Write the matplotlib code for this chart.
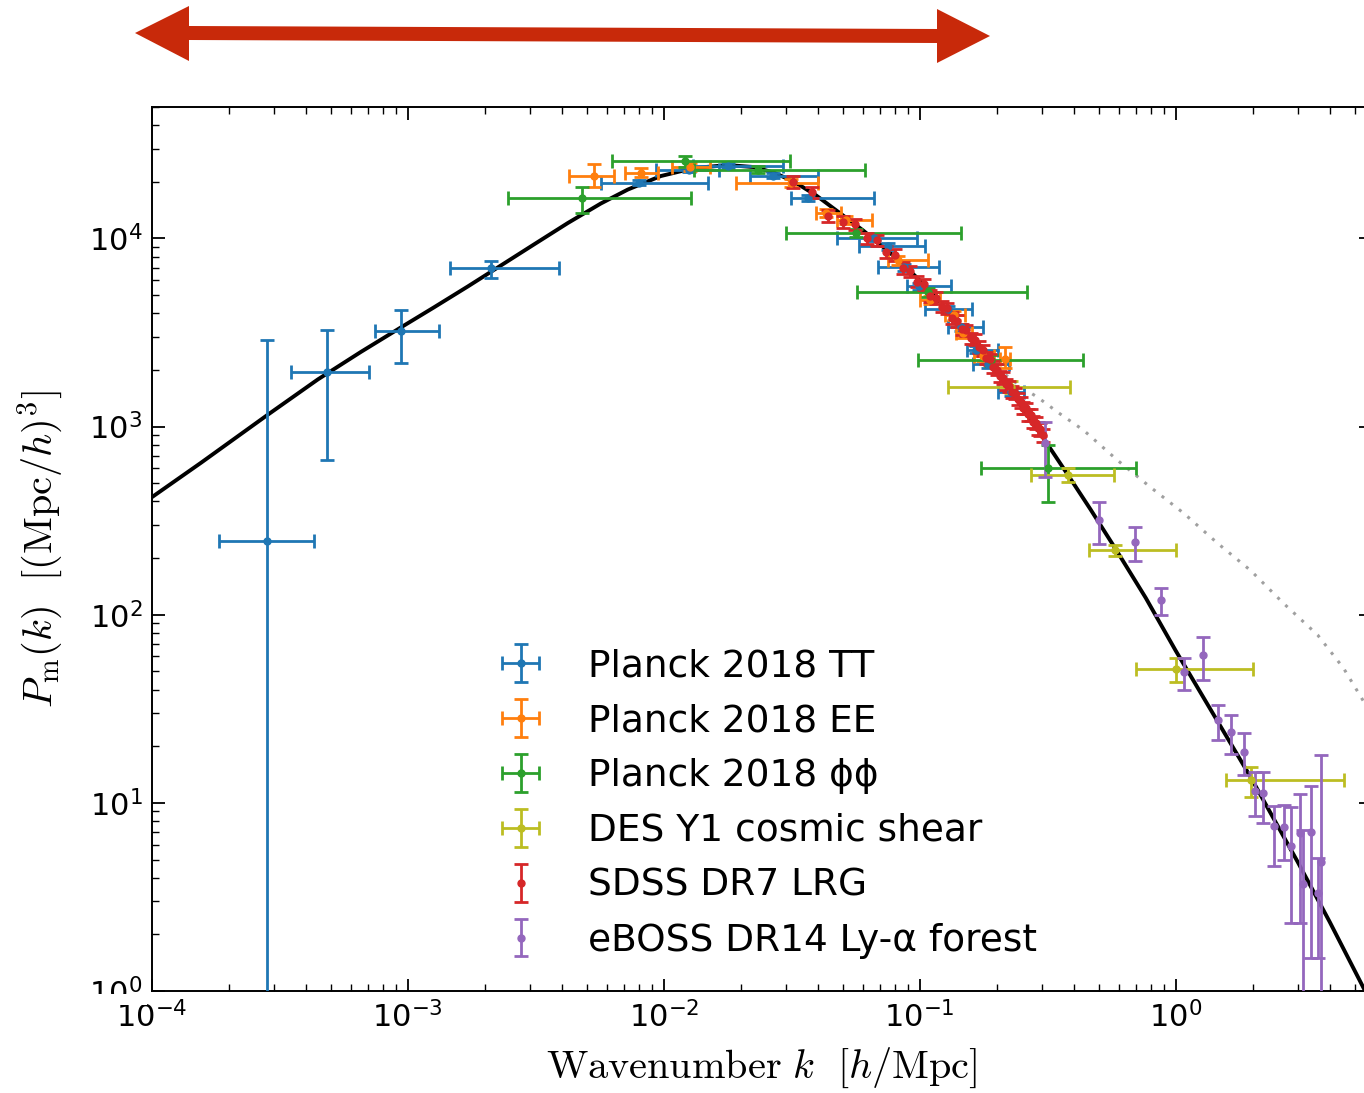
import numpy as np
import matplotlib
matplotlib.use("Agg")
import matplotlib.pyplot as plt
from matplotlib.patches import Polygon, Rectangle
from matplotlib.ticker import LogLocator, NullFormatter

plt.rcParams['font.family'] = ['DejaVu Sans']
plt.rcParams['mathtext.fontset'] = 'dejavusans'

# ---------------- data ----------------
# linear theory P(k)
line_k = [1.0e-4, 1.553e-4, 2.812e-4, 4.45e-4, 6.553e-4, 9.39e-4, 1.263e-3, 1.715e-3, 2.309e-3, 3.107e-3,
          4.217e-3, 5.674e-3, 7.233e-3, 9.733e-3, 1.31e-2, 1.778e-2, 2.247e-2, 2.69e-2, 3.22e-2, 3.925e-2,
          0.05, 0.06, 0.07, 0.08, 0.09, 0.1, 0.12, 0.14, 0.16, 0.18,
          0.2, 0.226, 0.25, 0.28, 0.31, 0.38, 0.465, 0.58, 0.764, 1.0,
          1.4, 1.97, 3.0, 4.0, 5.42, 6.0]
line_P = [422, 642, 1148, 1783, 2496, 3368, 4301, 5561, 7188, 9293,
          12087, 15346, 18203, 21475, 23680, 24565, 23974, 22410, 20075, 17000,
          13300, 11050, 9305, 7970, 6879, 5985, 4593, 3611, 2897, 2363,
          1955, 1556, 1282, 1025, 836, 552, 363, 226, 123, 64.5,
          29.8, 13.6, 4.85, 2.33, 1.04, 0.79]

# non-linear P(k)
nl_k = [0.2, 0.2265, 0.25, 0.289, 0.35, 0.4375, 0.593, 0.798, 1.074, 1.458,
        1.963, 2.64, 3.59, 4.53, 5.47, 6.0]
nl_P = [2050, 1800, 1620, 1432, 1180, 955, 662, 476, 347, 240,
        172, 115, 78, 52, 34, 29]

# Planck 2018 TT
tt_k = [2.81e-4, 4.83e-4, 9.4e-4, 2.11e-3, 7.98e-3, 1.25e-2, 1.78e-2, 2.67e-2, 3.65e-2, 6.6e-2,
        7.5e-2, 8.66e-2, 9.9e-2, 0.1285, 0.1445, 0.1655, 0.1845, 0.2265]
tt_k_lo = [1.83e-4, 3.49e-4, 7.43e-4, 1.46e-3, 5.67e-3, 9.3e-3, 1.30e-2, 2.18e-2, 3.13e-2, 4.73e-2,
           5.8e-2, 6.88e-2, 8.88e-2, 0.105, 0.1285, 0.1525, 0.161, 0.2015]
tt_k_hi = [4.3e-4, 7.05e-4, 1.32e-3, 3.89e-3, 1.49e-2, 1.65e-2, 2.92e-2, 4.02e-2, 6.64e-2, 9.76e-2,
           0.105, 0.1187, 0.1323, 0.1595, 0.1775, 0.2015, 0.2225, 0.2555]
tt_P = [246, 1940, 3205, 6930, 19800, 23200, 24400, 21600, 16500, 10100,
        9070, 7020, 5560, 4200, 3370, 2570, 2140, 1520]
tt_P_lo = [1e-3, 662, 2190, 6140, 19200, 22500, 23700, 20900, 15900, 9700,
           8700, 6700, 5300, 4000, 3220, 2450, 2040, 1450]
tt_P_hi = [2870, 3245, 4150, 7550, 20400, 23900, 25100, 22300, 17100, 10500,
           9450, 7350, 5820, 4400, 3520, 2690, 2240, 1590]

# Planck 2018 EE
ee_k = [5.33e-3, 8.13e-3, 1.27e-2, 3.13e-2, 4.3e-2, 5.14e-2, 8.2e-2, 0.110, 0.136, 0.1475, 0.1775, 0.2147]
ee_k_lo = [4.26e-3, 7.05e-3, 1.08e-2, 1.91e-2, 3.92e-2, 4.77e-2, 7.49e-2, 0.100, 0.125, 0.138, 0.163, 0.205]
ee_k_hi = [6.4e-3, 9.46e-3, 1.52e-2, 4.02e-2, 4.91e-2, 6.52e-2, 0.1073, 0.120, 0.150, 0.160, 0.195, 0.225]
ee_P = [21600, 22400, 24000, 19800, 13700, 12500, 7650, 4690, 3900, 3130, 2360, 2300]
ee_P_lo = [18700, 21100, 22800, 18800, 13000, 11900, 7270, 4460, 3700, 2970, 2240, 2040]
ee_P_hi = [25000, 23600, 25200, 20800, 14400, 13100, 8030, 4920, 4100, 3290, 2480, 2640]

# Planck 2018 lensing
pp_k = [4.8e-3, 1.21e-2, 2.33e-2, 5.63e-2, 0.1075, 0.1905, 0.317]
pp_k_lo = [2.47e-3, 6.3e-3, 1.31e-2, 2.99e-2, 5.69e-2, 9.84e-2, 0.174]
pp_k_hi = [1.28e-2, 3.12e-2, 6.13e-2, 0.1454, 0.2625, 0.436, 0.700]
pp_P = [16500, 25900, 23200, 10760, 5170, 2250, 600]
pp_P_lo = [13700, 24100, 22200, 10200, 4900, 2100, 396]
pp_P_hi = [18700, 27600, 24200, 11300, 5450, 2400, 794]

# DES Y1 cosmic shear
des_k = [0.2265, 0.381, 0.58, 1.0, 1.97]
des_k_lo = [0.1295, 0.2713, 0.4597, 0.70, 1.57]
des_k_hi = [0.3875, 0.5756, 1.0, 2.01, 4.55]
des_P = [1620, 551, 220, 51.4, 13.2]
des_P_lo = [1500, 505, 205, 44, 10.8]
des_P_hi = [1750, 600, 236, 59, 15.6]

# SDSS DR7 LRG
sdss_k = [0.032, 0.038, 0.044, 0.050, 0.056, 0.062, 0.068, 0.074, 0.080, 0.086,
          0.092, 0.098, 0.104, 0.110, 0.116, 0.122, 0.128, 0.134, 0.140, 0.146,
          0.152, 0.158, 0.164, 0.170, 0.176, 0.182, 0.188, 0.194, 0.200, 0.206,
          0.212, 0.218, 0.224, 0.230, 0.236, 0.242, 0.248, 0.254, 0.260, 0.266,
          0.272, 0.278, 0.284, 0.290, 0.296, 0.302]
sdss_P = [20000, 17600, 13200, 12300, 11900, 10000, 9800, 8500, 8200, 7000,
          6700, 5900, 5700, 4950, 4850, 4350, 4250, 3800, 3650, 3300,
          3250, 2950, 2900, 2650, 2550, 2320, 2280, 2080, 2010, 1850,
          1820, 1680, 1640, 1530, 1500, 1400, 1350, 1260, 1250, 1160,
          1150, 1060, 1050, 980, 970, 900]
sdss_err = [1400, 1230, 920, 860, 830, 700, 690, 600, 570, 490,
            470, 410, 400, 350, 340, 300, 300, 270, 260, 230,
            230, 210, 200, 190, 180, 160, 160, 150, 140, 130,
            130, 120, 115, 110, 105, 100, 95, 90, 90, 85,
            85, 80, 80, 75, 75, 70]

# eBOSS DR14 Lyman-alpha forest
lya_k = [0.3087, 0.5, 0.6915, 0.88, 1.08, 1.28, 1.46, 1.64, 1.85, 2.04,
         2.2, 2.42, 2.65, 2.82, 3.07, 3.15, 3.39, 3.6, 3.7]
lya_P = [815, 318, 243, 120, 49.5, 61, 27.5, 23.8, 18.6, 11.6,
         11.3, 7.5, 7.4, 5.9, 6.9, 3.7, 7.0, 3.33, 4.85]
lya_P_lo = [540, 239, 194, 100, 40, 45, 21.6, 18.1, 14.1, 8.5,
            7.8, 4.6, 5.0, 2.3, 2.3, 0.5, 1.5, 1.5, 0.5]
lya_P_hi = [1055, 397, 292, 138, 58.6, 76, 33.3, 29.3, 23.4, 14.6,
            14.6, 9.6, 9.8, 9.5, 11.2, 7.2, 12.3, 5.1, 18]

labels = ["Planck 2018 TT", "Planck 2018 EE", "Planck 2018 \u03d5\u03d5",
          "DES Y1 cosmic shear", "SDSS DR7 LRG", "eBOSS DR14 Ly-\u03b1 forest"]
colors = ["#1f77b4", "#ff7f0e", "#2ca02c", "#bcbd22", "#d62728", "#9467bd"]

# ---------------- figure ----------------
W, H = 1364, 1093
fig = plt.figure(figsize=(W / 100, H / 100), dpi=100)
ax = fig.add_axes([152 / W, 1 - 991 / H, (1371 - 152) / W, (991 - 107) / H])

ax.plot(line_k, line_P, color="black", lw=2.8, zorder=2)
ax.plot(nl_k, nl_P, color="#a0a0a0", lw=2.2, ls=(0, (1, 2.6)), zorder=1)

ebkw = dict(fmt="o", ms=5, elinewidth=2.0, capsize=5, capthick=2.0, zorder=3)


def asym(c, lo, hi):
    c = np.asarray(c, float)
    return np.vstack([c - np.asarray(lo, float), np.asarray(hi, float) - c])


sets = [
    (tt_k, tt_P, asym(tt_k, tt_k_lo, tt_k_hi), asym(tt_P, tt_P_lo, tt_P_hi)),
    (ee_k, ee_P, asym(ee_k, ee_k_lo, ee_k_hi), asym(ee_P, ee_P_lo, ee_P_hi)),
    (pp_k, pp_P, asym(pp_k, pp_k_lo, pp_k_hi), asym(pp_P, pp_P_lo, pp_P_hi)),
    (des_k, des_P, asym(des_k, des_k_lo, des_k_hi), asym(des_P, des_P_lo, des_P_hi)),
    (sdss_k, sdss_P, None, np.asarray(sdss_err, float)),
    (lya_k, lya_P, None, asym(lya_P, lya_P_lo, lya_P_hi)),
]
for (k, P, xe, ye), lab, col in zip(sets, labels, colors):
    ax.errorbar(k, P, xerr=xe, yerr=ye, color=col, label=lab, **ebkw)

ax.set_xscale("log")
ax.set_yscale("log")
ax.set_xlim(1e-4, 5.8)
ax.set_ylim(1.0, 5.0e4)

ax.xaxis.set_major_locator(LogLocator(base=10, numticks=20))
ax.xaxis.set_minor_locator(LogLocator(base=10, subs=np.arange(2, 10), numticks=40))
ax.yaxis.set_major_locator(LogLocator(base=10, numticks=20))
ax.yaxis.set_minor_locator(LogLocator(base=10, subs=np.arange(2, 10), numticks=40))
ax.xaxis.set_minor_formatter(NullFormatter())
ax.yaxis.set_minor_formatter(NullFormatter())

ax.tick_params(which="both", direction="in", top=True, right=True, labelsize=22, pad=7)
ax.tick_params(which="major", length=9, width=1.3)
ax.tick_params(which="minor", length=5, width=1.0)
for s in ax.spines.values():
    s.set_linewidth(1.4)

ax.set_xlabel(r"$\mathrm{Wavenumber}\ k\ \ [h/\mathrm{Mpc}]$", fontsize=29,
              math_fontfamily="cm", labelpad=9)
ax.set_ylabel(r"$P_{\rm m}(k)\ \ [(\mathrm{Mpc}/h)^3]$", fontsize=29,
              math_fontfamily="cm", labelpad=17)

leg = ax.legend(loc="upper left", bbox_to_anchor=(0.244, 0.426), frameon=False,
                fontsize=27, labelspacing=0.505, handletextpad=0.8, handlelength=2.0)

# white band trimming the lowest y tick label
fig.add_artist(Rectangle((55 / W, 1 - 1005 / H), 92 / W, 11 / H, transform=fig.transFigure,
                         facecolor="white", edgecolor="none", zorder=5))

# double-headed arrow above the axes
pts_px = [(135, 33), (189, 6), (189, 26), (937, 29), (937, 9), (990, 36),
          (937, 63), (937, 43), (189, 40), (189, 61)]
pts = [(x / W, 1 - y / H) for x, y in pts_px]
fig.add_artist(Polygon(pts, closed=True, transform=fig.transFigure,
                       facecolor="#c8290a", edgecolor="none", zorder=5))

fig.savefig("out.png", dpi=100)
